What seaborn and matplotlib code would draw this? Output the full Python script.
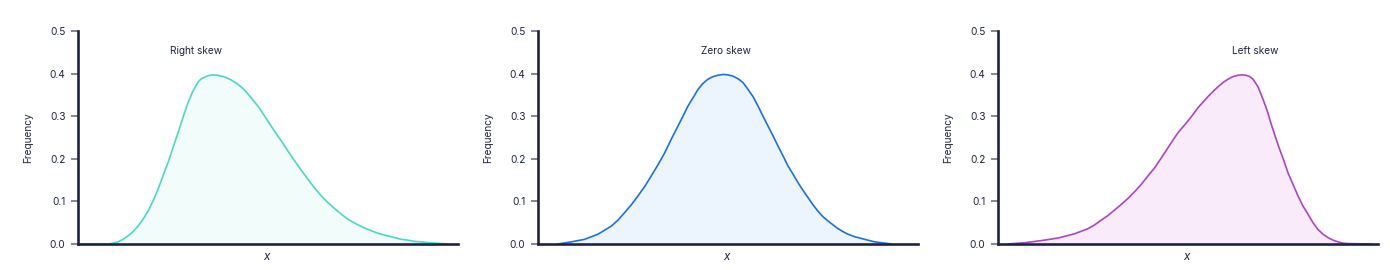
import matplotlib
matplotlib.use("Agg")
import matplotlib.pyplot as plt
import pandas as pd
import seaborn as sns

# Density curves sampled along the horizontal axis (x in arbitrary units, 0..38)
right_x = [0.0, 3.0, 3.5, 4.0, 4.5, 5.0, 5.5, 6.0, 6.5, 7.0, 7.5, 8.0, 8.5, 9.0,
           9.5, 10.0, 10.5, 11.0, 11.5, 12.0, 12.33, 13.0, 13.5, 14.0, 14.67,
           15.33, 16.0, 16.67, 17.33, 18.17, 19.0, 19.67, 20.33, 21.0, 21.67,
           22.33, 23.0, 23.67, 24.33, 25.0, 25.67, 26.33, 27.0, 27.67, 28.33,
           29.0, 29.67, 30.33, 31.0, 31.67, 32.33, 33.0, 33.67, 34.33, 35.0,
           35.67, 36.33, 37.0]
right_y = [0.0, 0.0, 0.002, 0.005, 0.011, 0.019, 0.029, 0.042, 0.058, 0.077, 0.101,
           0.128, 0.160, 0.191, 0.226, 0.261, 0.297, 0.332, 0.359, 0.380, 0.388,
           0.395, 0.397, 0.396, 0.392, 0.385, 0.375, 0.361, 0.343, 0.318, 0.288,
           0.264, 0.242, 0.218, 0.195, 0.173, 0.152, 0.131, 0.113, 0.097, 0.083,
           0.070, 0.058, 0.049, 0.041, 0.034, 0.028, 0.023, 0.019, 0.015, 0.011,
           0.009, 0.006, 0.005, 0.003, 0.002, 0.001, 0.0]

zero_x = [2.0, 3.33, 4.67, 6.0, 7.33, 8.0, 8.67, 9.33, 10.0, 10.67, 11.33, 12.0,
          12.67, 13.33, 14.0, 14.5, 15.0, 15.5, 16.0, 16.5, 17.0, 17.5, 18.0,
          18.5, 19.0, 19.5, 20.0, 20.5, 21.0, 21.5, 22.0, 22.5, 23.0, 23.5, 24.0,
          24.5, 25.0, 25.5, 26.0, 26.5, 27.0, 27.5, 28.0, 28.5, 29.0, 29.5, 30.0,
          30.5, 31.0, 31.67, 32.33, 33.0, 33.67, 34.33, 35.33]
zero_y = [0.0, 0.005, 0.011, 0.023, 0.042, 0.056, 0.074, 0.092, 0.113, 0.135,
          0.160, 0.186, 0.214, 0.246, 0.277, 0.300, 0.324, 0.343, 0.363, 0.377,
          0.387, 0.393, 0.396, 0.398, 0.397, 0.394, 0.388, 0.379, 0.363, 0.346,
          0.324, 0.300, 0.277, 0.254, 0.230, 0.207, 0.183, 0.164, 0.144, 0.126,
          0.109, 0.092, 0.077, 0.064, 0.054, 0.045, 0.036, 0.029, 0.023, 0.017,
          0.013, 0.009, 0.005, 0.003, 0.0]

left_x = [1.0, 2.67, 4.33, 6.0, 7.67, 9.0, 9.67, 10.33, 11.0, 11.67, 12.33, 13.0,
          13.67, 14.33, 15.0, 15.67, 16.33, 17.0, 17.5, 18.0, 18.5, 19.0, 19.5,
          20.0, 20.5, 21.0, 21.5, 22.0, 22.5, 23.0, 23.5, 24.0, 24.33, 24.83,
          25.17, 25.5, 26.0, 26.5, 26.93, 27.33, 27.73, 28.17, 28.6, 29.0, 29.5,
          30.0, 30.5, 31.0, 31.5, 32.0, 32.5, 33.0, 33.5, 34.0, 34.5, 35.0, 37.33]
left_y = [0.0, 0.003, 0.008, 0.014, 0.024, 0.036, 0.045, 0.056, 0.067, 0.080,
          0.093, 0.107, 0.123, 0.140, 0.160, 0.179, 0.202, 0.226, 0.244, 0.261,
          0.275, 0.289, 0.304, 0.320, 0.333, 0.346, 0.358, 0.369, 0.379, 0.387,
          0.393, 0.396, 0.397, 0.396, 0.393, 0.387, 0.369, 0.340, 0.312, 0.281,
          0.252, 0.222, 0.195, 0.167, 0.140, 0.113, 0.089, 0.070, 0.050, 0.034,
          0.023, 0.015, 0.009, 0.005, 0.002, 0.001, 0.0]

titles = ["Right skew", "Zero skew", "Left skew"]
title_pos = [0.31, 0.495, 0.676]
line_colors = ["#45d9c6", "#1a72dc", "#ac45c0"]
fill_colors = ["#f2fcfb", "#ecf4fd", "#f9ebfa"]

yticks = [0.0, 0.1, 0.2, 0.3, 0.4, 0.5]
ytick_labels = ["0.0", "0.1", "0.2", "0.3", "0.4", "0.5"]

sns.set_style("white")
plt.rcParams["font.family"] = ["Inter", "DejaVu Sans"]

navy = "#1f2440"
tick_grey = "#6e7282"

fig = plt.figure(figsize=(13.9, 2.7), dpi=100)
lefts = [78 / 1390, 538 / 1390, 998 / 1390]
width = 380 / 1390
bottom = 26 / 270
height = 213 / 270

curves = [(right_x, right_y), (zero_x, zero_y), (left_x, left_y)]

for i, (xs, ys) in enumerate(curves):
    ax = fig.add_axes([lefts[i], bottom, width, height])
    df = pd.DataFrame({"x": xs, "density": ys})
    ax.fill_between(df["x"], df["density"], 0, color=fill_colors[i], lw=0, zorder=1)
    sns.lineplot(data=df, x="x", y="density", ax=ax, color=line_colors[i],
                 lw=1.2, zorder=2, sort=False, solid_joinstyle="round",
                 solid_capstyle="round")
    ax.set_xlim(0, 38)
    ax.set_ylim(0, 0.5)
    ax.set_xticks([])
    ax.set_yticks(yticks)
    ax.set_yticklabels(ytick_labels, fontsize=7.3, color=navy)
    ax.tick_params(axis="y", which="major", length=5, width=1.2, color=tick_grey,
                   pad=4, left=True)
    for side in ["top", "right"]:
        ax.spines[side].set_visible(False)
    for side in ["left", "bottom"]:
        ax.spines[side].set_color(navy)
        ax.spines[side].set_linewidth(1.9)
        ax.spines[side].set_zorder(3)
    ax.set_ylabel("Frequency", fontsize=7.3, color=navy)
    ax.yaxis.set_label_coords(-0.118, 0.5)
    ax.set_xlabel("x", fontsize=8.5, color=navy, style="italic")
    ax.xaxis.set_label_coords(0.497, -0.035)
    ax.text(title_pos[i], 0.908, titles[i], transform=ax.transAxes,
            ha="center", va="center", fontsize=7.3, color=navy)
    ax.set_facecolor("white")

fig.savefig("out.png", dpi=100, facecolor="white")
